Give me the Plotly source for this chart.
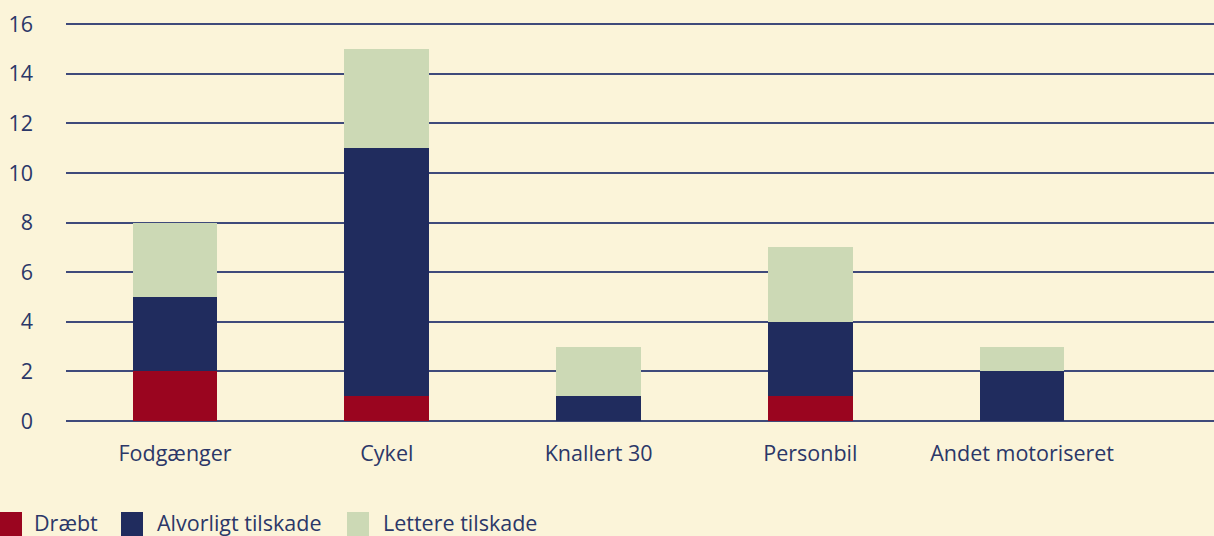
import plotly.graph_objects as go

categories = ["Fodgænger", "Cykel", "Knallert 30", "Personbil", "Andet motoriseret"]
draebt = [2, 1, 0, 1, 0]
alvorligt = [3, 10, 1, 3, 2]
lettere = [3, 4, 2, 3, 1]
series_names = ["Dræbt", "Alvorligt tilskade", "Lettere tilskade"]
colors = ["#9A051F", "#202C5E", "#CCD9B5"]
y_ticks = [0, 2, 4, 6, 8, 10, 12, 14, 16]

BG = "#FBF4D9"
TXT = "#2B3768"
FONT = "Open Sans, Noto Sans, sans-serif"

W, H = 1214, 536
L, R, T, B = 66, 0, 23, 115

fig = go.Figure()
for name, vals, col in zip(series_names, [draebt, alvorligt, lettere], colors):
    fig.add_trace(go.Bar(
        x=categories, y=vals, name=name,
        marker=dict(color=col, line=dict(width=0)),
        width=0.4, showlegend=False,
    ))

# custom legend (large square swatches)
pw = W - L - R
ph = H - T - B
def px_x(p):
    return (p - L) / pw
def px_y(p):
    return (H - B - p) / ph

legend_items = [(0, 32), (121, 155), (347, 381)]
for (sx, tx), name, col in zip(legend_items, series_names, colors):
    fig.add_shape(type="rect", xref="paper", yref="paper",
                  x0=px_x(sx), x1=px_x(sx + 22), y0=px_y(512), y1=px_y(540),
                  fillcolor=col, line=dict(width=0), layer="above")
    fig.add_annotation(xref="paper", yref="paper", x=px_x(tx), y=px_y(522),
                       xanchor="left", yanchor="middle", text=name, showarrow=False,
                       font=dict(family=FONT, size=21.5, color=TXT))

fig.update_layout(
    width=W, height=H,
    barmode="stack",
    paper_bgcolor=BG, plot_bgcolor=BG,
    margin=dict(l=L, r=R, t=T, b=B, pad=0),
    font=dict(family=FONT, size=21.5, color=TXT),
    xaxis=dict(
        range=[-0.515, 4.906], showgrid=False, zeroline=False,
        showline=False, ticks="", ticklabelstandoff=17,
        tickfont=dict(family=FONT, size=21.5, color=TXT),
    ),
    yaxis=dict(
        range=[0, 16.05], tickvals=y_ticks, showgrid=True,
        gridcolor="#3F4A7A", gridwidth=1.5, zeroline=True,
        zerolinecolor="#3F4A7A", zerolinewidth=1.5, showline=False,
        ticks="", ticklabelstandoff=32,
        tickfont=dict(family=FONT, size=21.5, color=TXT),
    ),
    bargap=0.6,
)

fig.write_html("out.html", config={"displayModeBar": False},
               post_script="document.body.style.margin='0';document.body.style.padding='0';document.body.style.overflow='hidden';")
